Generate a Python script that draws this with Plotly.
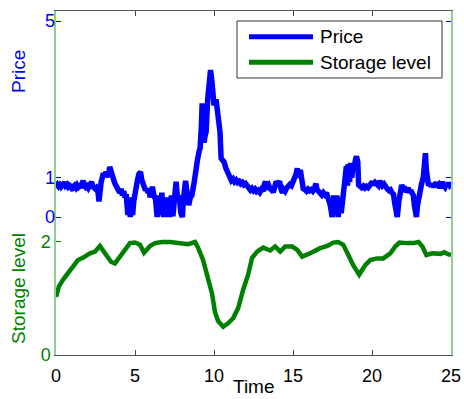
import plotly.graph_objects as go

# ---- data ----
time_price = [0.0, 0.08, 0.16, 0.24, 0.32, 0.4, 0.48, 0.55, 0.62, 0.7,
              0.78, 0.86, 0.94, 1.02, 1.1, 1.18, 1.26, 1.34, 1.42, 1.5,
              1.58, 1.66, 1.72, 1.8, 1.88, 1.96, 2.04, 2.12, 2.2, 2.26,
              2.32, 2.4, 2.48, 2.56, 2.64, 2.72, 2.78, 2.86, 2.94, 3.0,
              3.08, 3.16, 3.24, 3.32, 3.4, 3.48, 3.56, 3.64, 3.72, 3.8,
              3.88, 3.96, 4.04, 4.12, 4.2, 4.28, 4.36, 4.44, 4.5, 4.55,
              4.62, 4.7, 4.78, 4.85, 4.92, 5.0, 5.08, 5.16, 5.25, 5.35,
              5.42, 5.5, 5.58, 5.66, 5.74, 5.82, 5.9, 5.96, 6.02, 6.1,
              6.2, 6.3, 6.4, 6.5, 6.6, 6.7, 6.8, 6.9, 7.0, 7.1,
              7.2, 7.3, 7.4, 7.5, 7.6, 7.7, 7.8, 7.9, 8.0, 8.05,
              8.2, 8.3, 8.4, 8.5, 8.6, 8.75, 8.85, 8.95, 9.05, 9.12,
              9.2, 9.25, 9.31, 9.37, 9.45, 9.5, 9.6, 9.69, 9.78, 9.86,
              9.94, 10.0, 10.13, 10.2, 10.26, 10.38, 10.45, 10.55, 10.64, 10.75,
              10.89, 11.02, 11.1, 11.2, 11.3, 11.4, 11.5, 11.6, 11.7, 11.8,
              11.9, 12.0, 12.1, 12.2, 12.3, 12.4, 12.5, 12.6, 12.7, 12.8,
              12.9, 13.0, 13.1, 13.2, 13.26, 13.35, 13.45, 13.55, 13.65, 13.75,
              13.85, 13.93, 14.05, 14.15, 14.25, 14.33, 14.42, 14.5, 14.6, 14.7,
              14.8, 14.9, 15.0, 15.1, 15.2, 15.27, 15.36, 15.46, 15.55, 15.65,
              15.75, 15.85, 15.95, 16.05, 16.15, 16.25, 16.35, 16.45, 16.52, 16.62,
              16.72, 16.82, 16.92, 17.02, 17.12, 17.22, 17.3, 17.36, 17.48, 17.58,
              17.67, 17.77, 17.86, 17.96, 18.05, 18.15, 18.3, 18.38, 18.45, 18.5,
              18.58, 18.65, 18.72, 18.8, 18.88, 18.95, 19.02, 19.1, 19.15, 19.25,
              19.35, 19.45, 19.55, 19.65, 19.75, 19.85, 19.95, 20.02, 20.1, 20.2,
              20.3, 20.4, 20.5, 20.58, 20.66, 20.76, 20.86, 20.96, 21.06, 21.16,
              21.26, 21.36, 21.44, 21.52, 21.6, 21.7, 21.79, 21.88, 21.96, 22.04,
              22.12, 22.2, 22.3, 22.38, 22.46, 22.55, 22.62, 22.68, 22.74, 22.81,
              22.88, 22.93, 23.0, 23.06, 23.14, 23.25, 23.32, 23.38, 23.44, 23.5,
              23.58, 23.66, 23.74, 23.82, 23.9, 23.98, 24.06, 24.14, 24.22, 24.3,
              24.38, 24.46, 24.54, 24.62, 24.7, 24.78, 24.86, 24.94, 25.0]
price = [0.79, 0.83, 0.78, 0.82, 0.77, 0.81, 0.84, 0.88, 0.80, 0.83,
         0.77, 0.80, 0.76, 0.82, 0.76, 0.80, 0.75, 0.81, 0.76, 0.79,
         0.75, 0.85, 0.93, 0.80, 0.76, 0.79, 0.74, 0.80, 0.86, 0.90,
         0.78, 0.76, 0.72, 0.75, 0.70, 0.40, 0.72, 0.90, 1.02, 1.12,
         1.04, 1.15, 1.08, 1.02, 1.28, 1.14, 1.02, 0.95, 0.86, 0.80,
         0.74, 0.70, 0.62, 0.72, 0.55, 0.66, 0.50, 0.58, 0.35, 0.05,
         0.50, 0.00, 0.45, 0.05, 0.40, 0.65, 0.82, 0.95, 1.10, 1.15,
         0.96, 0.82, 0.74, 0.68, 0.72, 0.62, 0.66, 0.50, 0.60, 0.77,
         0.55, 0.45, 0.00, 0.55, 0.05, 0.62, 0.00, 0.50, 0.00, 0.50,
         0.00, 0.55, 0.02, 0.50, 0.90, 0.45, 0.55, 0.10, 0.00, 0.40,
         0.92, 0.60, 0.30, 0.50, 0.55, 0.90, 1.27, 1.45, 1.66, 1.76,
         2.30, 2.90, 2.30, 1.90, 2.10, 2.17, 3.00, 3.60, 3.75, 3.50,
         3.03, 2.85, 3.00, 2.80, 2.60, 2.17, 1.50, 1.45, 1.40, 1.25,
         1.15, 1.00, 0.93, 0.97, 0.90, 0.94, 0.88, 0.91, 0.85, 0.88,
         0.82, 0.85, 0.78, 0.76, 0.69, 0.73, 0.67, 0.71, 0.65, 0.68,
         0.63, 0.70, 0.66, 0.85, 0.90, 0.78, 0.82, 0.72, 0.70, 0.63,
         0.80, 0.90, 0.85, 0.91, 0.70, 0.62, 0.70, 0.66, 0.74, 0.78,
         0.83, 0.80, 0.88, 0.95, 1.10, 1.24, 1.00, 1.20, 0.80, 0.72,
         0.70, 0.66, 0.71, 0.67, 0.70, 0.66, 0.72, 0.85, 0.70, 0.66,
         0.62, 0.56, 0.62, 0.57, 0.62, 0.52, 0.45, 0.30, 0.00, 0.55,
         0.05, 0.55, 0.00, 0.50, 0.10, 0.60, 1.00, 1.30, 0.80, 1.35,
         0.90, 1.38, 1.00, 1.30, 1.25, 1.45, 1.55, 1.40, 0.82, 0.78,
         0.75, 0.79, 0.74, 0.78, 0.75, 0.80, 0.86, 0.90, 0.82, 0.88,
         0.84, 0.80, 0.92, 0.88, 0.80, 0.84, 0.76, 0.72, 0.68, 0.70,
         0.62, 0.58, 0.35, 0.20, 0.00, 0.40, 0.77, 0.82, 0.72, 0.78,
         0.64, 0.70, 0.74, 0.62, 0.68, 0.60, 0.55, 0.30, 0.15, 0.00,
         0.30, 0.43, 0.58, 0.69, 0.85, 1.02, 1.30, 1.63, 1.20, 0.87,
         0.80, 0.85, 0.78, 0.84, 0.76, 0.83, 0.88, 0.78, 0.82, 0.74,
         0.84, 0.90, 0.80, 0.76, 0.84, 0.79, 0.87, 0.80, 0.82]

time_storage = [0.0, 0.18, 0.44, 0.69, 1.07, 1.39, 1.7, 2.15, 2.47, 2.78,
                3.1, 3.48, 3.73, 4.05, 4.36, 4.68, 5.0, 5.32, 5.57, 5.95,
                6.27, 6.71, 7.22, 7.98, 8.36, 8.8, 8.99, 9.31, 9.63, 9.88,
                10.07, 10.26, 10.58, 10.89, 11.21, 11.53, 11.84, 12.16, 12.41, 12.73,
                13.11, 13.55, 13.87, 14.19, 14.51, 14.95, 15.27, 15.58, 16.09, 16.72,
                17.17, 17.55, 17.86, 18.18, 18.5, 18.81, 19.19, 19.57, 19.89, 20.33,
                20.71, 21.16, 21.47, 21.73, 22.24, 22.62, 22.94, 23.19, 23.44, 23.82,
                24.33, 24.58, 24.77, 25.0]
storage = [1.03, 1.21, 1.33, 1.42, 1.56, 1.68, 1.72, 1.80, 1.83, 1.93,
           1.80, 1.65, 1.62, 1.74, 1.86, 1.98, 1.99, 1.95, 1.81, 1.93,
           1.98, 2.00, 2.00, 1.97, 1.96, 2.00, 1.90, 1.68, 1.38, 1.08,
           0.75, 0.60, 0.50, 0.56, 0.65, 0.83, 1.15, 1.42, 1.72, 1.83,
           1.90, 1.85, 1.92, 1.83, 1.92, 1.92, 1.86, 1.74, 1.80, 1.89,
           1.93, 1.99, 2.00, 1.95, 1.77, 1.59, 1.42, 1.59, 1.68, 1.71,
           1.71, 1.80, 1.92, 1.99, 1.98, 1.98, 2.00, 1.92, 1.77, 1.80,
           1.79, 1.82, 1.79, 1.77]

x_ticks = [0, 5, 10, 15, 20, 25]
price_ticks = [0, 1, 5]
storage_ticks = [0, 2]

BLUE = "#0000ff"
GREEN = "#008000"
FONT = "Liberation Sans, Arial, sans-serif"

fig = go.Figure()
fig.add_trace(go.Scatter(x=time_storage, y=storage, mode="lines", name="Storage level",
                         line=dict(color=GREEN, width=4.5), yaxis="y", showlegend=False,
                         hoverinfo="skip"))
fig.add_trace(go.Scatter(x=time_price, y=price, mode="lines", name="Price",
                         line=dict(color=BLUE, width=5.5), yaxis="y2", showlegend=False,
                         hoverinfo="skip"))

fig.update_layout(
    width=464, height=399,
    margin=dict(l=56, r=13, t=11, b=44, pad=0),
    paper_bgcolor="white", plot_bgcolor="white",
    font=dict(family=FONT, size=18, color="black"),
    xaxis=dict(range=[0, 25], tickvals=x_ticks, ticks="inside", ticklen=5,
               tickcolor="#444", showline=True, linecolor="#555", linewidth=1,
               mirror="ticks", showgrid=False, zeroline=False, automargin=False,
               ticklabelstandoff=4,
               tickfont=dict(size=18, color="black")),
    yaxis=dict(range=[0, 6.088], tickvals=storage_ticks, ticks="inside", ticklen=5,
               tickcolor=GREEN, showline=True, linecolor="#8fcf8f", linewidth=1.5,
               mirror=True, showgrid=False, zeroline=False, automargin=False,
               tickfont=dict(size=18, color=GREEN)),
    yaxis2=dict(range=[-3.52, 5.255], tickvals=price_ticks, ticks="inside", ticklen=5,
                tickcolor=BLUE, showline=False, mirror="ticks", overlaying="y",
                side="left", anchor="x", showgrid=False, zeroline=False,
                automargin=False, tickfont=dict(size=18, color=BLUE)),
)

# axis titles
fig.add_annotation(text="Time", x=0.5, y=0, xref="paper", yref="paper",
                   xanchor="center", yanchor="top", yshift=-20, borderpad=0,
                   showarrow=False, font=dict(size=19, color="black"))
fig.add_annotation(text="Price", x=0, y=0.8227, xref="paper", yref="paper",
                   xanchor="center", yanchor="middle", xshift=-37, textangle=-90,
                   showarrow=False, font=dict(size=19, color=BLUE))
fig.add_annotation(text="Storage level", x=0, y=0.192, xref="paper", yref="paper",
                   xanchor="center", yanchor="middle", xshift=-37, textangle=-90,
                   showarrow=False, font=dict(size=19, color=GREEN))

# legend box
fig.add_shape(type="rect", xref="paper", yref="paper", x0=0.4582, x1=0.9772,
              y0=0.8052, y1=0.9709, line=dict(color="#333", width=1),
              fillcolor="white", layer="above")
fig.add_shape(type="line", xref="paper", yref="paper", x0=0.4886, x1=0.6506,
              y0=0.9253, y1=0.9253, line=dict(color=BLUE, width=5), layer="above")
fig.add_shape(type="line", xref="paper", yref="paper", x0=0.4886, x1=0.6506,
              y0=0.8509, y1=0.8509, line=dict(color=GREEN, width=5), layer="above")
fig.add_annotation(text="Price", x=0.6633, y=0.9253, xref="paper", yref="paper",
                   xanchor="left", yanchor="middle", showarrow=False,
                   font=dict(size=19, color="black"))
fig.add_annotation(text="Storage level", x=0.6633, y=0.8509, xref="paper", yref="paper",
                   xanchor="left", yanchor="middle", showarrow=False,
                   font=dict(size=19, color="black"))

fig.write_html("out.html", config={"displayModeBar": False})
